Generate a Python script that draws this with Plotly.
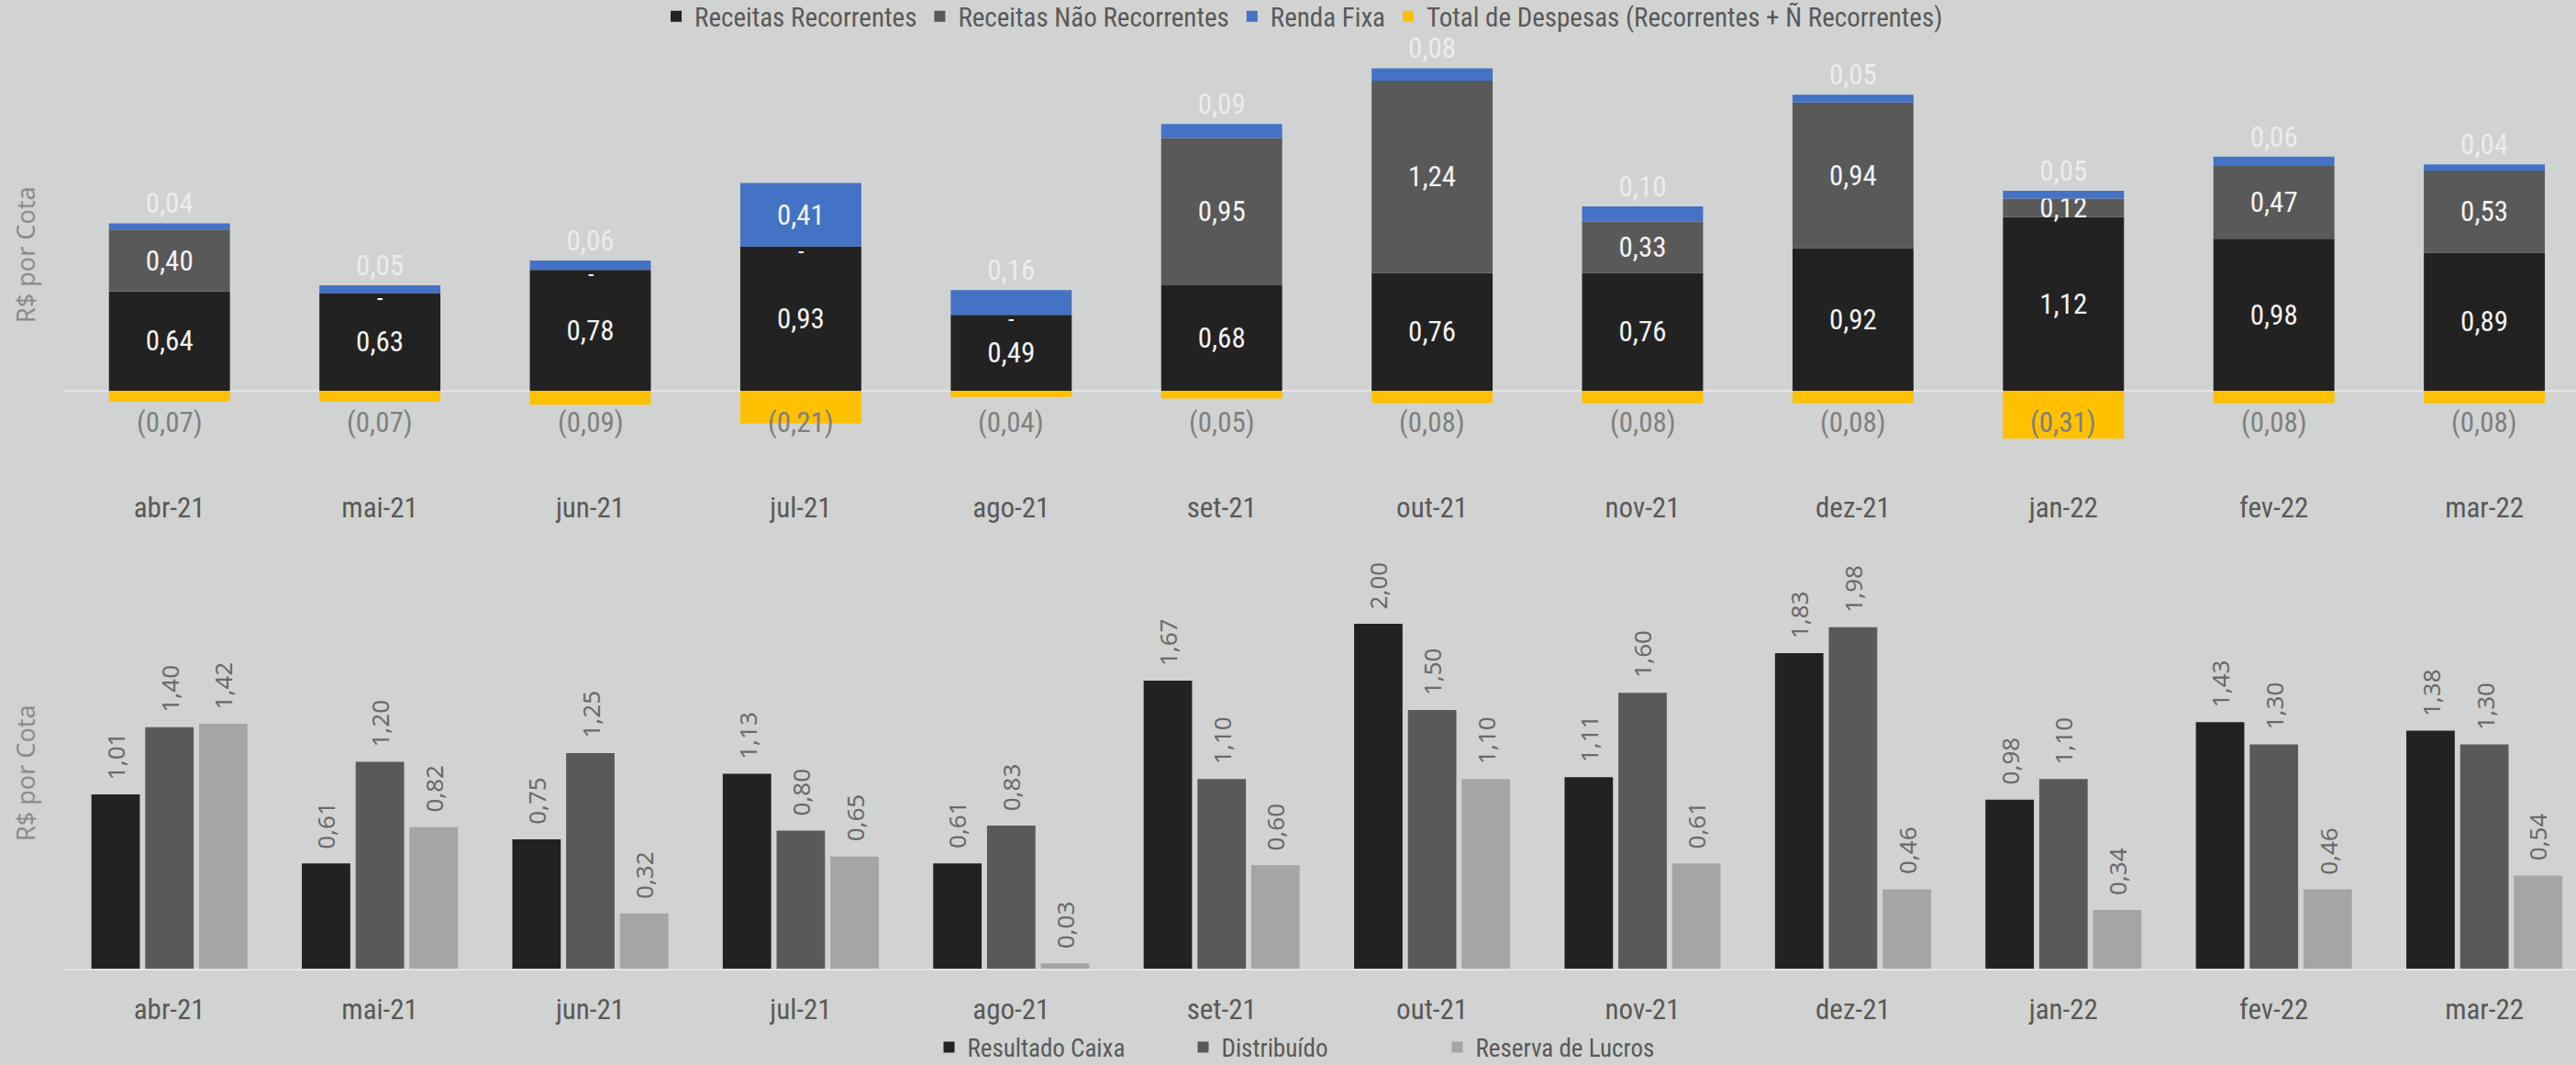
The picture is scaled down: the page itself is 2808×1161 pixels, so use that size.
import plotly.graph_objects as go

categories = ['abr-21', 'mai-21', 'jun-21', 'jul-21', 'ago-21', 'set-21',
              'out-21', 'nov-21', 'dez-21', 'jan-22', 'fev-22', 'mar-22']
receitas_rec = [0.64, 0.63, 0.78, 0.93, 0.49, 0.68, 0.76, 0.76, 0.92, 1.12, 0.98, 0.89]
receitas_nrec = [0.40, 0.00, 0.00, 0.00, 0.00, 0.95, 1.24, 0.33, 0.94, 0.12, 0.47, 0.53]
renda_fixa = [0.04, 0.05, 0.06, 0.41, 0.16, 0.09, 0.08, 0.10, 0.05, 0.05, 0.06, 0.04]
despesas = [-0.07, -0.07, -0.09, -0.21, -0.04, -0.05, -0.08, -0.08, -0.08, -0.31, -0.08, -0.08]

resultado_caixa = [1.01, 0.61, 0.75, 1.13, 0.61, 1.67, 2.00, 1.11, 1.83, 0.98, 1.43, 1.38]
distribuido = [1.40, 1.20, 1.25, 0.80, 0.83, 1.10, 1.50, 1.60, 1.98, 1.10, 1.30, 1.30]
reserva_lucros = [1.42, 0.82, 0.32, 0.65, 0.03, 0.60, 1.10, 0.61, 0.46, 0.34, 0.46, 0.54]


def br(v):
    return f"{v:.2f}".replace('.', ',')


NARROW = "Liberation Sans Narrow, Roboto Condensed, Arial Narrow, Liberation Sans, sans-serif"
WIDE = "Noto Sans, DejaVu Sans, sans-serif"
BG = '#D1D3D2'
W, H = 2808, 1161
L = 70
plot_w = W - L
TOP_W = 0.575          # width of stacked bars (category units)
GROUP_W = 0.767        # width of a group of three bars
SLOT = GROUP_W / 3
BAR_W = SLOT * 0.9

fig = go.Figure()

# ---------- top chart ----------
fig.add_trace(go.Bar(
    x=categories, y=receitas_rec, name='Receitas Recorrentes', width=TOP_W,
    marker=dict(color='#222222', line=dict(width=0)),
    text=[br(v) for v in receitas_rec], textposition='inside', insidetextanchor='middle',
    constraintext='none', textfont=dict(family=NARROW, size=31, color='#F2F2F2'),
    xaxis='x', yaxis='y', legend='legend', hoverinfo='skip'))
fig.add_trace(go.Bar(
    x=categories, y=receitas_nrec, name='Receitas Não Recorrentes', width=TOP_W,
    marker=dict(color='#595959', line=dict(width=0)),
    text=[br(v) if v > 0 else '' for v in receitas_nrec], textposition='inside',
    insidetextanchor='middle', constraintext='none',
    textfont=dict(family=NARROW, size=31, color='#F2F2F2'),
    xaxis='x', yaxis='y', legend='legend', hoverinfo='skip'))
fig.add_trace(go.Bar(
    x=categories, y=renda_fixa, name='Renda Fixa', width=TOP_W,
    marker=dict(color='#4472C4', line=dict(width=0)),
    text=[br(v) for v in renda_fixa],
    textposition=['inside' if v >= 0.3 else 'outside' for v in renda_fixa],
    insidetextanchor='middle', constraintext='none',
    insidetextfont=dict(family=NARROW, size=31, color='#F2F2F2'),
    outsidetextfont=dict(family=NARROW, size=31, color='#ECECEC'),
    cliponaxis=False,
    xaxis='x', yaxis='y', legend='legend', hoverinfo='skip'))
fig.add_trace(go.Bar(
    x=categories, y=despesas, name='Total de Despesas (Recorrentes + Ñ Recorrentes)', width=TOP_W,
    marker=dict(color='#FFC000', line=dict(width=0)),
    xaxis='x', yaxis='y', legend='legend', hoverinfo='skip'))

annotations = []
for c, v in zip(categories, despesas):
    annotations.append(dict(x=c, y=0, xref='x', yref='y', text=f"({br(abs(v))})",
                            showarrow=False, yanchor='middle', yshift=-35,
                            font=dict(family=NARROW, size=31, color='#808080')))
for c, r, n in zip(categories, receitas_rec, receitas_nrec):
    if n == 0:
        annotations.append(dict(x=c, y=r, xref='x', yref='y', text='-',
                                showarrow=False, yanchor='middle', yshift=-5,
                                font=dict(family=NARROW, size=26, color='#FFFFFF')))

# ---------- bottom chart ----------
bottom_series = [(resultado_caixa, 'Resultado Caixa', '#222222'),
                 (distribuido, 'Distribuído', '#595959'),
                 (reserva_lucros, 'Reserva de Lucros', '#A5A5A5')]
for j, (vals, name, color) in enumerate(bottom_series):
    center = (j - 1) * SLOT
    fig.add_trace(go.Bar(
        x=categories, y=vals, name=name, offsetgroup=str(j),
        width=BAR_W, offset=center - BAR_W / 2,
        marker=dict(color=color, line=dict(width=0)),
        xaxis='x2', yaxis='y2', legend='legend2', hoverinfo='skip'))
    for i, v in enumerate(vals):
        annotations.append(dict(x=i + center, y=v, xref='x2', yref='y2', text=br(v),
                                showarrow=False, textangle=-90, xanchor='center',
                                yanchor='bottom', yshift=14,
                                font=dict(family=WIDE, size=26, color='#6A6A6A')))

# axis titles
for yc in [278, 843]:
    annotations.append(dict(x=(27 - L) / plot_w, y=1 - yc / H, xref='paper', yref='paper',
                            text='R$ por Cota', showarrow=False, textangle=-90,
                            xanchor='center', yanchor='middle',
                            font=dict(family=WIDE, size=27, color='#8C8C8C')))

units = plot_w / 229.4
xr = [-0.5, -0.5 + units]

fig.update_layout(
    width=W, height=H,
    margin=dict(l=L, r=0, t=0, b=0, autoexpand=False),
    paper_bgcolor=BG, plot_bgcolor=BG,
    barmode='relative',
    showlegend=True,
    annotations=annotations,
    xaxis=dict(domain=[0, 1], range=xr, anchor='y', showgrid=False, showline=False,
               zeroline=False, ticks='', ticklabelstandoff=32,
               tickfont=dict(family=NARROW, size=31, color='#595959')),
    yaxis=dict(domain=[1 - 500 / H, 1 - 40 / H], range=[-0.438, 2.284], anchor='x',
               showgrid=False, showticklabels=False, zeroline=True, zerolinecolor='#E4E4E4',
               zerolinewidth=2, ticks=''),
    xaxis2=dict(domain=[0, 1], range=xr, anchor='y2', showgrid=False, showline=True,
                linecolor='#E4E4E4', linewidth=2, zeroline=False, ticks='',
                ticklabelstandoff=16,
                tickfont=dict(family=NARROW, size=31, color='#595959')),
    yaxis2=dict(domain=[1 - 1056 / H, 1 - 600 / H], range=[0, 2.4255], anchor='x2',
                showgrid=False, showticklabels=False, zeroline=False, ticks=''),
    legend=dict(orientation='h', x=1420 / W, xanchor='center', xref='container',
                y=1 - 18 / H, yref='container', yanchor='middle',
                font=dict(family=NARROW, size=29, color='#595959'), bgcolor='rgba(0,0,0,0)',
                traceorder='normal', itemwidth=30),
    legend2=dict(orientation='h', x=1430 / W, xanchor='center', xref='container',
                 y=1 - 1142 / H, yref='container', yanchor='middle',
                 entrywidth=232, entrywidthmode='pixels',
                 font=dict(family=NARROW, size=27, color='#595959'), bgcolor='rgba(0,0,0,0)',
                 traceorder='normal', itemwidth=30),
)

fig.write_html("out.html")
